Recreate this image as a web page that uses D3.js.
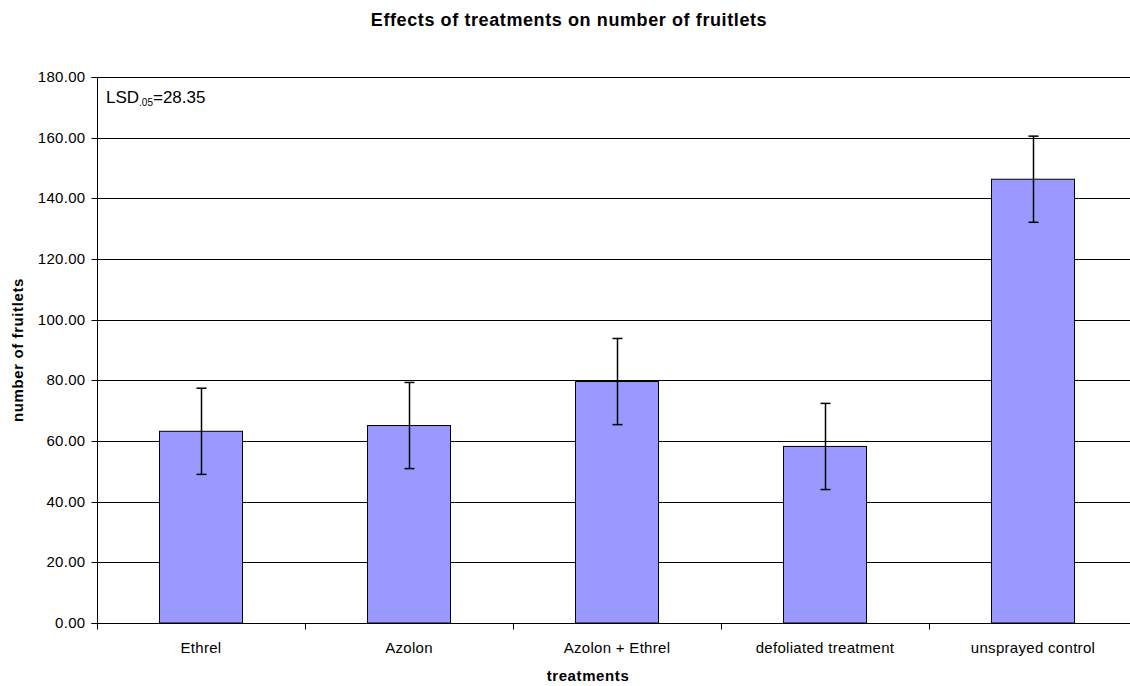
<!DOCTYPE html>
<html><head><meta charset="utf-8">
<script src="https://cdn.jsdelivr.net/npm/d3@7"></script>
<style>body{margin:0;background:#fff}svg{display:block;font-family:"Liberation Sans",Arial,sans-serif}</style>
</head><body>
<svg id="c" width="1130" height="686"></svg>
<script>
const categories = ["Ethrel","Azolon","Azolon + Ethrel","defoliated treatment","unsprayed control"];
const means = [63.2, 65.1, 79.6, 58.2, 146.3];
const errors = [14.2, 14.2, 14.2, 14.2, 14.2];
const yTicks = [0,20,40,60,80,100,120,140,160,180];
const title = "Effects of treatments on number of fruitlets";
const xTitle = "treatments";
const yTitle = "number of fruitlets";

const svg = d3.select("#c");
const L = 97, R = 1137, T = 77, B = 623;
const x = d3.scaleBand().domain(categories).range([L, R]).paddingInner(0.6).paddingOuter(0.3);
const xb = d3.scaleBand().domain(categories).range([L, R]);
const y = d3.scaleLinear().domain([0, 180]).range([B, T]);

// gridlines
svg.append("g").selectAll("line").data(yTicks.filter(d=>d>0)).join("line")
  .attr("x1", L).attr("x2", R).attr("y1", d=>Math.round(y(d))+0.5).attr("y2", d=>Math.round(y(d))+0.5)
  .attr("stroke", "#000").attr("stroke-width", 1);

// bars
svg.append("g").selectAll("rect").data(categories).join("rect")
  .attr("x", (d)=>Math.round(x(d))+0.5).attr("width", Math.round(x.bandwidth()))
  .attr("y", (d,i)=>y(means[i])).attr("height", (d,i)=>B - y(means[i]))
  .attr("fill", "#9999ff").attr("stroke", "#000").attr("stroke-width", 1);

// error bars
const eb = svg.append("g").attr("stroke", "#000").attr("stroke-width", 1.5);
categories.forEach((c,i)=>{
  const cx = Math.round(xb(c) + xb.bandwidth()/2) + 0.5;
  eb.append("line").attr("x1", cx).attr("x2", cx).attr("y1", y(means[i]+errors[i])).attr("y2", y(means[i]-errors[i]));
  eb.append("line").attr("x1", cx-5).attr("x2", cx+5).attr("y1", y(means[i]+errors[i])).attr("y2", y(means[i]+errors[i]));
  eb.append("line").attr("x1", cx-5).attr("x2", cx+5).attr("y1", y(means[i]-errors[i])).attr("y2", y(means[i]-errors[i]));
});

// y axis
const ya = svg.append("g").attr("transform", `translate(${L+0.5},0)`)
  .call(d3.axisLeft(y).tickValues(yTicks).tickFormat(d3.format(".2f")).tickSize(6).tickPadding(6));
ya.select(".domain").attr("stroke", "#000").attr("d", `M-6,${Math.round(T)+0.5}H0V${B+0.5}H-6`);
ya.selectAll(".tick line").attr("stroke", "#000");
ya.selectAll(".tick text").attr("font-size", 15).attr("letter-spacing", 0.3)
  .attr("font-family", "Liberation Sans, Arial").attr("fill", "#000");
ya.selectAll(".tick").attr("transform", d=>`translate(0,${Math.round(y(d))+0.5})`);

// x axis
const xa = svg.append("g").attr("transform", `translate(0,${B+0.5})`);
xa.append("line").attr("x1", L).attr("x2", R).attr("stroke", "#000");
const bounds = categories.map(c=>xb(c)).concat([R]);
xa.selectAll("line.tk").data(bounds).join("line").attr("class","tk")
  .attr("x1", d=>Math.round(d)+0.5).attr("x2", d=>Math.round(d)+0.5).attr("y1", 0).attr("y2", 6).attr("stroke", "#000");
xa.selectAll("text").data(categories).join("text")
  .attr("x", c=>xb(c)+xb.bandwidth()/2).attr("y", 29).attr("text-anchor", "middle")
  .attr("font-size", 15).attr("letter-spacing", 0.3).text(d=>d);

// titles
svg.append("text").attr("x", 569).attr("y", 26).attr("text-anchor", "middle")
  .attr("font-size", 18).attr("letter-spacing", 0.6).attr("font-weight", "bold").text(title);
svg.append("text").attr("x", 588).attr("y", 681).attr("text-anchor", "middle")
  .attr("font-size", 15).attr("letter-spacing", 0.6).attr("font-weight", "bold").text(xTitle);
svg.append("text").attr("transform", `translate(23,${(T+B)/2}) rotate(-90)`).attr("text-anchor", "middle")
  .attr("font-size", 15).attr("letter-spacing", 0.6).attr("font-weight", "bold").text(yTitle);

// LSD annotation
const lsd = svg.append("text").attr("x", 106).attr("y", 103).attr("font-size", 17);
lsd.append("tspan").text("LSD");
lsd.append("tspan").attr("font-size", 10).attr("dy", 3).text(".05");
lsd.append("tspan").attr("dy", -3).text("=28.35");
</script>
</body></html>
